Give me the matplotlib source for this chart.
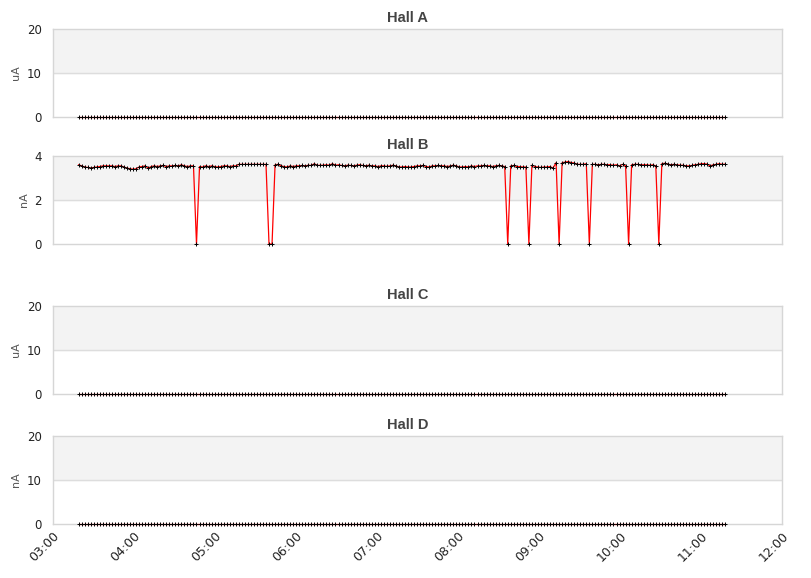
import matplotlib
matplotlib.use("Agg")
import matplotlib.pyplot as plt
import matplotlib.dates as mdates
import pandas as pd

# sample times (one reading roughly every 2.2 minutes)
times = pd.date_range("2020-01-01 03:19", "2020-01-01 11:18", periods=215)

# Hall B beam current, nA
hall_b = [
    3.60, 3.55, 3.50, 3.48, 3.45, 3.48, 3.50, 3.52, 3.55, 3.55,
    3.55, 3.55, 3.52, 3.55, 3.55, 3.50, 3.45, 3.42, 3.40, 3.42,
    3.50, 3.52, 3.55, 3.45, 3.52, 3.55, 3.52, 3.55, 3.57, 3.52,
    3.55, 3.55, 3.57, 3.55, 3.60, 3.55, 3.52, 3.55, 3.55, 0.00,
    3.52, 3.50, 3.55, 3.52, 3.55, 3.52, 3.50, 3.52, 3.55, 3.55,
    3.52, 3.55, 3.55, 3.62, 3.62, 3.62, 3.62, 3.62, 3.62, 3.62,
    3.62, 3.62, 3.62, 0.00, 0.00, 3.60, 3.62, 3.55, 3.52, 3.50,
    3.55, 3.52, 3.55, 3.55, 3.57, 3.55, 3.58, 3.57, 3.65, 3.57,
    3.58, 3.58, 3.60, 3.58, 3.65, 3.58, 3.60, 3.57, 3.55, 3.58,
    3.57, 3.55, 3.58, 3.60, 3.57, 3.55, 3.58, 3.55, 3.55, 3.52,
    3.55, 3.55, 3.53, 3.55, 3.58, 3.55, 3.50, 3.50, 3.52, 3.50,
    3.50, 3.52, 3.55, 3.55, 3.57, 3.52, 3.50, 3.55, 3.55, 3.57,
    3.55, 3.55, 3.52, 3.55, 3.58, 3.55, 3.50, 3.50, 3.52, 3.50,
    3.55, 3.52, 3.55, 3.55, 3.57, 3.55, 3.55, 3.52, 3.55, 3.57,
    3.55, 3.52, 0.00, 3.55, 3.57, 3.52, 3.52, 3.50, 3.50, 0.00,
    3.58, 3.52, 3.50, 3.48, 3.50, 3.50, 3.52, 3.45, 3.70, 0.00,
    3.70, 3.72, 3.75, 3.70, 3.68, 3.62, 3.62, 3.62, 3.65, 0.00,
    3.62, 3.62, 3.60, 3.62, 3.62, 3.60, 3.60, 3.58, 3.60, 3.55,
    3.62, 3.55, 0.00, 3.60, 3.62, 3.62, 3.60, 3.60, 3.60, 3.58,
    3.60, 3.55, 0.00, 3.65, 3.67, 3.63, 3.60, 3.62, 3.60, 3.58,
    3.58, 3.55, 3.55, 3.57, 3.60, 3.62, 3.65, 3.65, 3.63, 3.55,
    3.60, 3.62, 3.65, 3.62, 3.63,
]
# the other halls read zero all night
hall_a = [0.0] * len(times)
hall_c = [0.0] * len(times)
hall_d = [0.0] * len(times)

panels = [
    ("Hall A", "uA", hall_a, 20, [0, 10, 20]),
    ("Hall B", "nA", hall_b, 4, [0, 2, 4]),
    ("Hall C", "uA", hall_c, 20, [0, 10, 20]),
    ("Hall D", "nA", hall_d, 20, [0, 10, 20]),
]
# top / bottom pixel rows of each panel
rows = [(29, 117), (156, 244), (306, 394), (436, 524)]

W, H = 811, 578
fig = plt.figure(figsize=(W / 100, H / 100), dpi=100)

x0 = pd.Timestamp("2020-01-01 03:00")
x1 = pd.Timestamp("2020-01-01 12:00")

for i, (name, unit, vals, ymax, yt) in enumerate(panels):
    top, bot = rows[i]
    ax = fig.add_axes([53 / W, 1 - bot / H, 729 / W, (bot - top) / H])
    ax.axhspan(ymax / 2, ymax, color="#f3f3f3", zorder=0)
    ax.axhline(ymax / 2, color="#dddddd", lw=1, zorder=1)
    ax.plot(times, vals, color="red", lw=0.9, marker="+", ms=2.7,
            mec="black", mew=0.7, zorder=3, clip_on=False)
    ax.set_xlim(x0, x1)
    ax.set_ylim(0, ymax)
    ax.set_yticks(yt)
    for s in ax.spines.values():
        s.set_color("#d6d6d6")
        s.set_linewidth(1)
    ax.tick_params(length=0, labelsize=8.5, colors="#222222", pad=8)
    ax.set_ylabel(unit, fontsize=8, color="#555555", labelpad=4)
    ax.xaxis.set_major_locator(mdates.HourLocator())
    ax.xaxis.set_major_formatter(mdates.DateFormatter("%H:%M"))
    if i < 3:
        ax.set_xticklabels([])
    else:
        plt.setp(ax.get_xticklabels(), rotation=45, ha="right",
                 rotation_mode="anchor", fontsize=9)
        ax.tick_params(axis="x", pad=4)
    fig.text(408 / W, 1 - (top - 11) / H, name, ha="center", va="center",
             fontsize=10.5, fontweight="bold", color="#444444",
             family="Liberation Sans")

plt.savefig("out.png", dpi=100)
